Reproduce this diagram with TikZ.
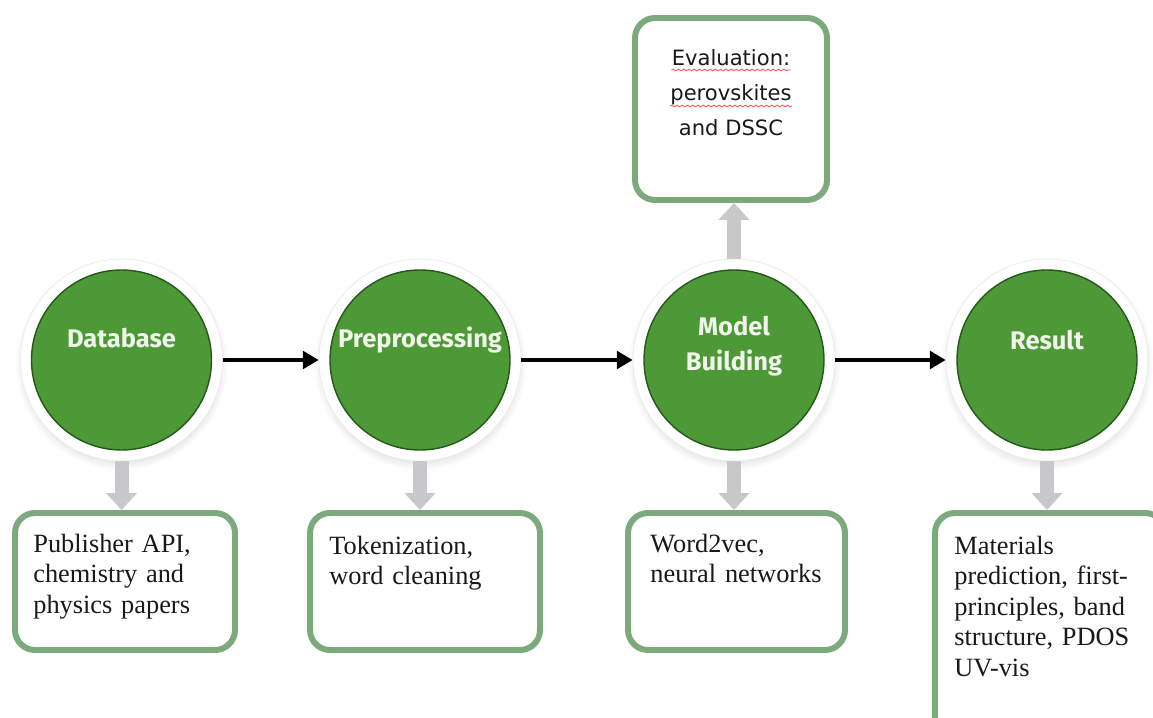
\documentclass[tikz,border=0pt]{standalone}
\usepackage{fontspec}
\setmainfont{Liberation Serif}
\newfontfamily\circfont{Fira Sans}
\newfontfamily\evalfont{DejaVu Sans}
\usepackage{tikz}
\usetikzlibrary{arrows.meta, positioning, shadows, decorations.pathmorphing}
\definecolor{discgreen}{RGB}{77,152,55}
\definecolor{discedge}{RGB}{38,88,28}
\definecolor{boxedge}{RGB}{125,170,125}
\definecolor{pipegray}{RGB}{200,200,202}
\definecolor{labelwhite}{RGB}{240,247,234}

\begin{document}
\begin{tikzpicture}[
  ring/.style={circle, fill=white, draw=black!8, minimum size=4.04cm, inner sep=0pt,
    circular drop shadow={shadow xshift=0pt, shadow yshift=-2pt, shadow scale=1.05, opacity=0.3}},
  disc/.style={circle, fill=discgreen, draw=discedge, line width=0.8pt,
    minimum size=3.6cm, inner sep=0pt},
  disclabel/.style={text=labelwhite, font=\circfont\bfseries\fontsize{14.5}{19.8}\selectfont,
    align=center, inner sep=0pt},
  infobox/.style={rectangle, rounded corners=0.4cm, draw=boxedge, line width=3.4pt,
    fill=white, minimum height=2.74cm},
  infotext/.style={anchor=base west, inner sep=0pt, text width=4.2cm, align=left,
    font=\fontsize{15}{17.4}\selectfont, text=black!90},
  evaltext/.style={anchor=base, inner sep=0pt, font=\evalfont\fontsize{12}{15}\selectfont,
    text=black!90},
  flow/.style={-{Triangle[length=9pt,width=10pt]}, line width=2.2pt},
  pipe/.style={-{Triangle[length=9.6pt,width=17pt]}, line width=0.28cm, draw=pipegray},
  squiggle/.style={decorate, decoration={snake, amplitude=0.5pt, segment length=3pt},
    draw=red!65, line width=0.5pt}
]
\useasboundingbox (0,0) rectangle (23.06,14.34);
\clip (0,0) rectangle (23.06,14.34);

% ---------------- stage discs ----------------
\node[ring] (dbring)  at (2.43,7.14)  {};
\node[ring] (ppring)  at (8.40,7.14)  {};
\node[ring] (mbring)  at (14.68,7.14) {};
\node[ring] (resring) at (20.94,7.14) {};
\node[disc] (db)  at (dbring.center)  {};
\node[disc] (pp)  at (ppring.center)  {};
\node[disc] (mb)  at (mbring.center)  {};
\node[disc] (res) at (resring.center) {};
\node[disclabel, anchor=base] (dblbl)  at ([yshift=0.24cm]db.center)  {Database};
\node[disclabel, anchor=base] (pplbl)  at ([yshift=0.24cm]pp.center)  {Preprocessing};
\node[disclabel] (mblbl) at ([yshift=0.28cm]mb.center) {Model\\Building};
\node[disclabel, anchor=base] (reslbl) at ([yshift=0.20cm]res.center) {Result};

% main flow
\draw[flow] (dbring) -- (ppring);
\draw[flow] (ppring) -- (mbring);
\draw[flow] (mbring) -- (resring);

% ---------------- detail boxes ----------------
\node[infobox, minimum width=4.40cm] (dbbox) at (2.50,2.71)  {};
\node[infobox, minimum width=4.60cm] (ppbox) at (8.50,2.71)  {};
\node[infobox, minimum width=4.34cm] (mbbox) at (14.73,2.71) {};
\node[infobox, minimum width=4.60cm, minimum height=4.54cm] (resbox) at (21.00,1.81) {};
\node[infobox, minimum width=3.84cm, minimum height=3.64cm] (evbox) at (14.62,12.16) {};

% gray pipes
\draw[pipe] (dbring.south)  -- (dbring.south  |- dbbox.north);
\draw[pipe] (ppring.south)  -- (ppring.south  |- ppbox.north);
\draw[pipe] (mbring.south)  -- (mbring.south  |- mbbox.north);
\draw[pipe] (resring.south) -- (resring.south |- resbox.north);
\draw[pipe] (mbring.north)  -- (mbring.north  |- evbox.south);

\node[infotext] (dbtxt)  at ([xshift=0.42cm,yshift=-0.84cm]dbbox.north west)
  {Publisher API,\\chemistry and\\physics papers};
\node[infotext] (pptxt)  at ([xshift=0.44cm,yshift=-0.88cm]ppbox.north west)
  {Tokenization,\\word cleaning};
\node[infotext] (mbtxt)  at ([xshift=0.50cm,yshift=-0.84cm]mbbox.north west)
  {Word2vec,\\neural networks};
\node[infotext] (restxt) at ([xshift=0.44cm,yshift=-0.88cm]resbox.north west)
  {Materials\\prediction, first-\\principles, band\\structure, PDOS\\UV-vis};

% evaluation text with the spell-check marks
\node[evaltext] (ev1) at (14.62,13.02) {Evaluation:};
\node[evaltext] (ev2) at ([yshift=-0.70cm]ev1.base) {perovskites};
\node[evaltext] (ev3) at ([yshift=-0.70cm]ev2.base) {and DSSC};
\draw[squiggle] ([yshift=-0.08cm]ev1.base west) -- ([yshift=-0.08cm]ev1.base east);
\draw[squiggle] ([yshift=-0.10cm]ev2.base west) -- ([yshift=-0.10cm]ev2.base east);
\end{tikzpicture}
\end{document}
